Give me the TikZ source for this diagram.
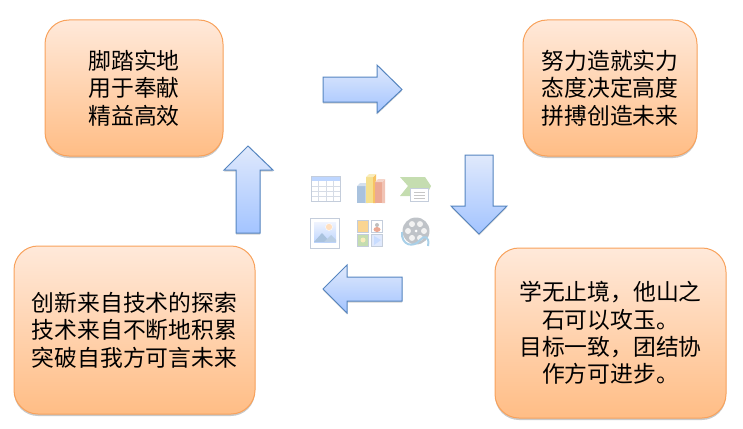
\documentclass[tikz,border=0pt]{standalone}
\usepackage{fontspec}
\newfontfamily\cjk{Noto Sans CJK SC}
\usetikzlibrary{shadows}
\definecolor{boxtop}{HTML}{FFE9DA}
\definecolor{boxbot}{HTML}{FFBD85}
\definecolor{boxline}{HTML}{F8A25C}
\definecolor{arrowtop}{HTML}{E0E9FC}
\definecolor{arrowbot}{HTML}{A3C4FF}
\definecolor{arrowline}{HTML}{5585C0}
\definecolor{iconline}{HTML}{C4CDDB}
\definecolor{barblue}{HTML}{A9C2DE}
\definecolor{baryellow}{HTML}{F5E08E}
\definecolor{barred}{HTML}{EBA994}
\definecolor{chevron}{HTML}{C5DDB0}
\definecolor{reelgray}{HTML}{BFC3C8}
\definecolor{ribbon}{HTML}{A9D0E8}
\tikzset{
  textbox/.style={draw=boxline, line width=1pt, top color=boxtop, bottom color=boxbot,
    rounded corners=24pt, align=center, inner sep=0pt,
    font=\cjk\fontsize{22.8}{27.4}\selectfont, text=black,
    drop shadow={shadow xshift=0pt, shadow yshift=-2pt, opacity=.3, fill=black!70}},
  blockarrow/.style={draw=arrowline, line width=1pt, top color=arrowtop, bottom color=arrowbot,
    drop shadow={shadow xshift=0pt, shadow yshift=-1.5pt, opacity=.25, fill=black!70}},
  iconframe/.style={draw=iconline, line width=.7pt, fill=white}
}
\begin{document}
\begin{tikzpicture}[x=1pt,y=-1pt]
\useasboundingbox (0,0) rectangle (743,428);

\node[textbox, minimum width=178pt, minimum height=136pt] (root) at (134,88) {脚踏实地\\用于奉献\\精益高效};
\node[textbox, minimum width=174pt, minimum height=136pt] (power) at (610,88) {努力造就实力\\态度决定高度\\拼搏创造未来};
\node[textbox, minimum width=231pt, minimum height=170pt] (learn) at (610.5,333) {学无止境，他山之\\石可以攻玉。\\目标一致，团结协\\作方可进步。};
\node[textbox, minimum width=241pt, minimum height=168pt] (create) at (134.5,330) {创新来自技术的探索\\技术来自不断地积累\\突破自我方可言未来};

% arrows
\draw[blockarrow] (323,77)--(377,77)--(377,65)--(402,89.5)--(377,113)--(377,102)--(323,102)--cycle;
\draw[blockarrow] (465,155)--(493,155)--(493,206)--(507,206)--(479,234)--(451,206)--(465,206)--cycle;
\draw[blockarrow] (402,277)--(347,277)--(347,265)--(323,289)--(347,313)--(347,301)--(402,301)--cycle;
\draw[blockarrow] (236,233)--(236,170)--(224,170)--(248,146)--(273,170)--(260,170)--(260,233)--cycle;

% table icon
\fill[arrowbot!70] (311,176) rectangle (340,181);
\foreach \x in {318,326,333} \draw[iconline!70, line width=.5pt] (\x,181)--(\x,201);
\foreach \y in {186,191,196} \draw[iconline!70, line width=.5pt] (311,\y)--(340,\y);
\draw[iconline, line width=.7pt] (311,176) rectangle (340,201);

% chart icon
\fill[barblue] (357,186) rectangle (365,203);
\fill[barblue!70] (365,186)--(368,183)--(368,203)--(365,203)--cycle;
\fill[barblue!50] (357,186)--(360,183)--(368,183)--(365,186)--cycle;
\fill[baryellow] (366,177) rectangle (373,203);
\fill[baryellow!70!orange] (373,177)--(376,174)--(376,203)--(373,203)--cycle;
\fill[baryellow!60] (366,177)--(369,174)--(376,174)--(373,177)--cycle;
\fill[barred] (375,182) rectangle (382,203);
\fill[barred!70] (382,182)--(385,179)--(385,203)--(382,203)--cycle;
\fill[barred!50] (375,182)--(378,179)--(385,179)--(382,182)--cycle;

% chevron icon
\fill[chevron] (400,177)--(425,177)--(431,186)--(426,196)--(400,196)--(408,186)--cycle;
\draw[iconline, fill=white, line width=.5pt] (410,188) rectangle (428,201);
\foreach \y in {192,195,198} \draw[gray!45, line width=.6pt] (414,\y)--(425,\y);

% picture icon
\draw[iconframe] (310.5,218.5) rectangle (339.5,248);
\shade[top color=arrowtop!50, bottom color=arrowbot!70] (314,222) rectangle (336,242);
\fill[orange!25, draw=white] (329,227) circle (3.5pt);
\fill[barblue] (314,242)--(322,233)--(330,242)--cycle;
\fill[barblue!80] (324,242)--(331,235)--(336,240)--(336,242)--cycle;

% clip art icon
\draw[iconframe, fill=baryellow!70!orange!70] (357.5,220.5) rectangle (368.5,232);
\draw[iconframe] (371.5,220.5) rectangle (382.5,232);
\fill[barred] (377,229.5) ellipse (3.5pt and 2.5pt);
\fill[gray!50] (377,225) circle (2pt);
\draw[iconframe, fill=chevron] (357.5,234.5) rectangle (368.5,246);
\fill[baryellow!60] (363,240) circle (2.5pt);
\draw[iconframe, fill=arrowtop] (371.5,234.5) rectangle (382.5,246);
\fill[arrowbot!60] (374,236)--(381,240)--(374,245)--cycle;

% film reel icon
\fill[reelgray] (416,231) circle (13.5pt);
\foreach \a in {0,60,...,300} \fill[white!90!gray] (416,231)++(\a:8pt) circle (3pt);
\fill[white] (416,231) circle (1.5pt);
\draw[ribbon, line width=2pt] (402,232) .. controls (401,246) and (414,248) .. (420,240) .. controls (424,235) and (430,236) .. (428,246);
\end{tikzpicture}
\end{document}
